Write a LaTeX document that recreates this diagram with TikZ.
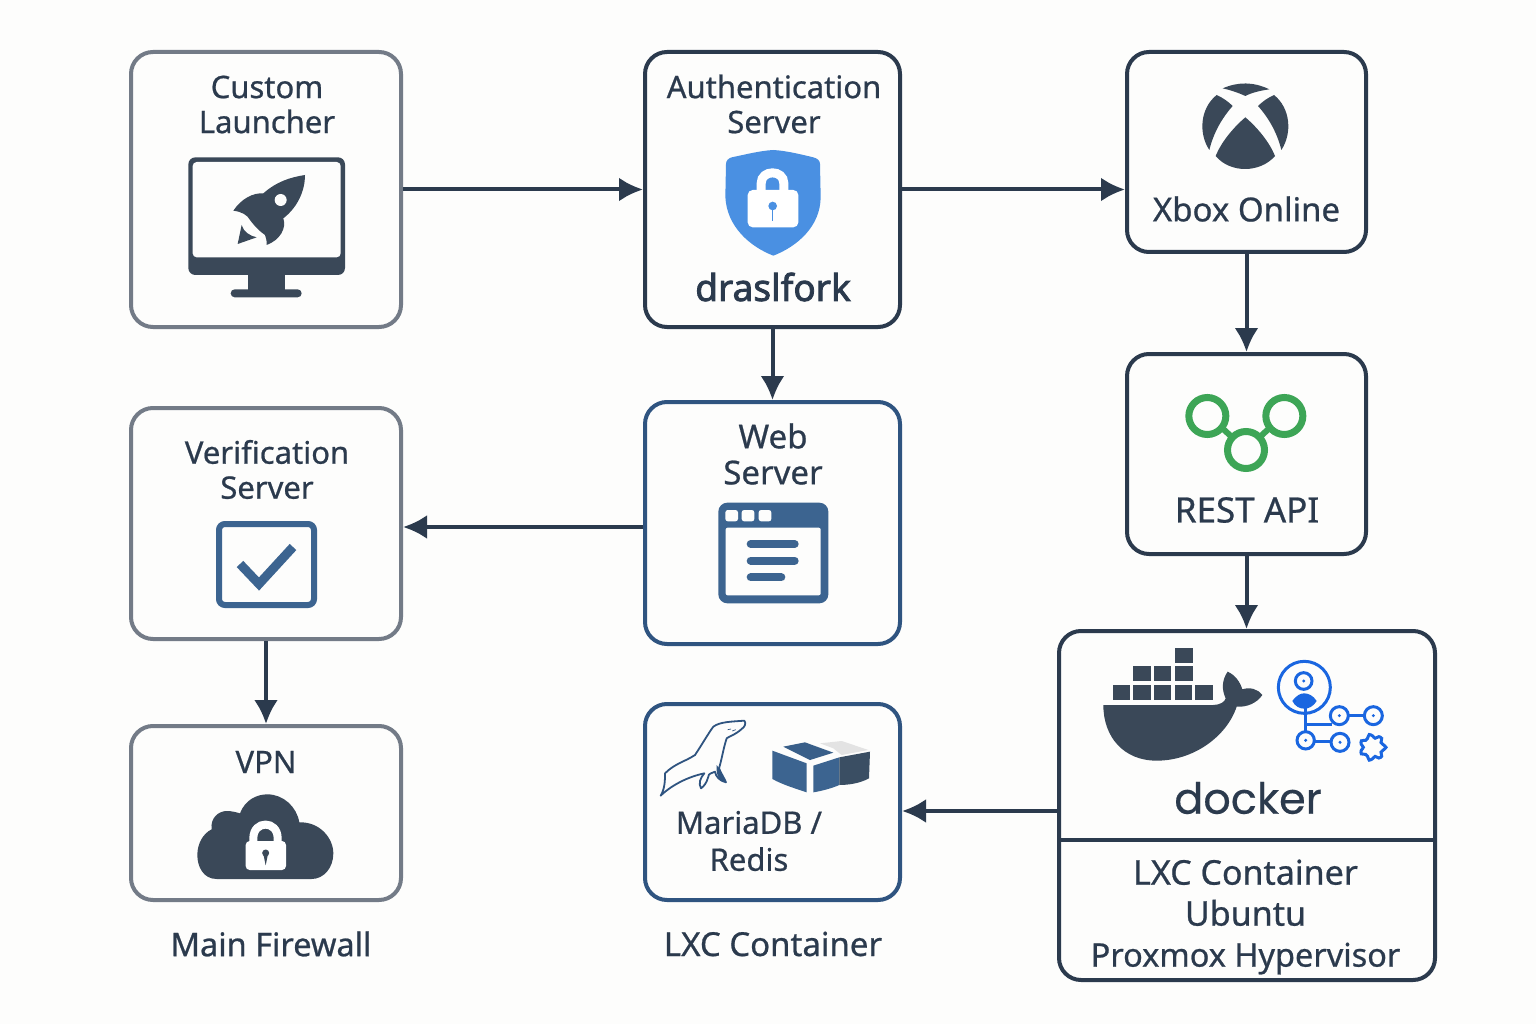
\documentclass[tikz,border=0pt]{standalone}
\usepackage{fontspec}
\setmainfont[RawFeature={embolden=0.7}]{Noto Sans}
\newfontfamily\heavyface[RawFeature={embolden=2.2}]{Noto Sans}
\newfontfamily\logoface[RawFeature={embolden=0.4}]{Poppins}
\definecolor{bgc}{HTML}{FDFDFC}
\definecolor{inkc}{HTML}{2B3A4D}
\definecolor{iconc}{HTML}{3A4858}
\definecolor{grayc}{HTML}{737B87}
\definecolor{bluec}{HTML}{2F5480}
\definecolor{iblue}{HTML}{3C6490}
\definecolor{shieldc}{HTML}{4A90E2}
\definecolor{greenc}{HTML}{3DA556}
\definecolor{brightc}{HTML}{1A66E0}
\usetikzlibrary{arrows.meta}
\tikzset{
  card/.style={draw=#1,line width=4pt,rounded corners=22pt,fill=bgc,inner sep=0pt},
  lbl/.style={text=inkc,align=center,inner sep=0pt,font=\fontsize{31}{35}\selectfont},
  flow/.style={draw=inkc,line width=4pt},
  zoomin/.style={shift={(#1)},scale=1/3}
}
\newcommand{\flowarrow}[2]{\draw[flow,-{Latex[length=24pt,width=24pt]}] #1 -- #2;}
\begin{document}
\begin{tikzpicture}[x=1pt,y=-1pt]
\useasboundingbox (0,0) rectangle (1536,1024);
\fill[bgc] (0,0) rectangle (1536,1024);
% cards
\node[card=grayc,minimum width=270pt,minimum height=275pt] (launcher) at (266,189.5) {};
\node[card=inkc,minimum width=255pt,minimum height=275pt] (auth) at (772.5,189.5) {};
\node[card=inkc,minimum width=239pt,minimum height=200pt] (xbox) at (1246.5,152) {};
\node[card=inkc,minimum width=239pt,minimum height=200pt] (rest) at (1246.5,454) {};
\node[card=inkc,minimum width=376pt,minimum height=349pt] (docker) at (1247,805.5) {};
\node[card=bluec,minimum width=255pt,minimum height=242pt] (web) at (772.5,523) {};
\node[card=grayc,minimum width=270pt,minimum height=231pt] (verify) at (266,523.5) {};
\node[card=grayc,minimum width=270pt,minimum height=174pt] (vpn) at (266,813) {};
\node[card=bluec,minimum width=255pt,minimum height=196pt] (maria) at (772.5,802) {};
\draw[inkc,line width=4pt] (docker.west |- 0,839.5) -- (docker.east |- 0,839.5);
% connectors
\flowarrow{(launcher.east)}{(auth.west)}
\flowarrow{(auth.east)}{(auth.east -| xbox.west)}
\flowarrow{(xbox.south)}{(rest.north)}
\flowarrow{(rest.south)}{(rest.south |- docker.north)}
\flowarrow{(auth.south)}{(web.north)}
\flowarrow{([yshift=-4pt]web.west)}{([yshift=-3.5pt]verify.east)}
\flowarrow{(verify.south)}{(vpn.north)}
\flowarrow{([yshift=-5.5pt]docker.west)}{([yshift=-9pt]maria.east)}
% labels
\node[lbl] (tLauncher) at (267,104.5) {Custom\\Launcher};
\node[lbl] (tAuth) at (774,104) {Authentication\\Server};
\node[lbl,font=\fontsize{37}{37}\selectfont\heavyface] (tDrasl) at (773,287) {draslfork};
\node[lbl,font=\fontsize{33}{35}\selectfont] (tXbox) at (1246.5,209) {Xbox Online};
\node[lbl,font=\fontsize{35}{35}\selectfont] (tRest) at (1247,510) {REST API};
\node[lbl,font=\fontsize{33}{36}\selectfont] (tWeb) at (773,454) {Web\\Server};
\node[lbl] (tVerify) at (267,469.5) {Verification\\Server};
\node[lbl] (tVpn) at (266,762) {VPN};
\node[lbl,font=\fontsize{31}{37}\selectfont] (tMaria) at (749,841) {MariaDB /\\Redis};
\node[lbl,font=\fontsize{34}{41}\selectfont] (tLxc) at (1245.5,917) {LXC Container\\Ubuntu\\{\fontsize{32.5}{41}\selectfont Proxmox Hypervisor}};
\node[lbl,font=\fontsize{32.5}{35}\selectfont] (tFirewall) at (271,944) {Main Firewall};
\node[lbl,font=\fontsize{33}{35}\selectfont] (tLxcTwo) at (773,944) {LXC Container};
\node[lbl,font=\fontsize{43}{43}\selectfont\logoface] (tDocker) at (1248,798) {docker};
% monitor + rocket
\begin{scope}[zoomin={170,150}]
 \fill[iconc,rounded corners=7pt] (55,22) rectangle (525,375);
 \fill[iconc] (235,370) rectangle (345,425);
 \fill[iconc,rounded corners=4pt] (182,418) rectangle (395,442);
 \fill[bgc,rounded corners=4pt] (68,36) rectangle (512,322);
 \fill[iconc] (405,75) .. controls (360,82) and (320,95) .. (280,130) .. controls (250,128) and (215,145) .. (190,182) .. controls (215,185) and (232,195) .. (240,210) .. controls (255,230) and (270,245) .. (285,255) .. controls (290,265) and (290,275) .. (290,285) .. controls (330,270) and (350,235) .. (340,205) .. controls (385,170) and (405,120) .. (405,75) -- cycle;
 \fill[bgc] (332,150) circle (18);
 \fill[iconc] (215,225) .. controls (220,245) and (240,258) .. (260,262) -- (203,282) -- cycle;
\end{scope}
% shield
\begin{scope}[zoomin={700,140}]
 \fill[shieldc] (220,30) .. controls (180,32) and (130,45) .. (95,52) .. controls (85,55) and (78,62) .. (78,72) -- (76,170) .. controls (80,260) and (150,320) .. (220,347) .. controls (290,320) and (362,260) .. (362,170) -- (360,72) .. controls (360,62) and (352,55) .. (340,52) .. controls (310,45) and (260,32) .. (220,30) -- cycle;
 \draw[white,line width=9pt] (183.5,155) -- (183.5,130) .. controls (183.5,88) and (251.5,88) .. (251.5,130) -- (251.5,155);
 \fill[white,rounded corners=5pt] (143,150) rectangle (295,262);
 \fill[shieldc] (218,198) circle (13);
 \draw[shieldc,line width=1.5pt] (218,198) -- (218,242);
\end{scope}
% xbox
\begin{scope}[zoomin={1180,70}]
 \fill[iconc] (128,55) .. controls (175,35) and (220,35) .. (268,58) .. controls (240,62) and (215,68) .. (196,78) .. controls (175,68) and (150,60) .. (128,55) -- cycle;
 \fill[iconc] (110,75) .. controls (128,83) and (145,95) .. (158,108) .. controls (125,145) and (100,190) .. (88,240) .. controls (55,190) and (60,115) .. (110,75) -- cycle;
 \fill[iconc] (282,75) .. controls (264,83) and (247,95) .. (234,108) .. controls (267,145) and (292,190) .. (304,240) .. controls (337,190) and (332,115) .. (282,75) -- cycle;
 \fill[iconc] (196,142) .. controls (235,175) and (270,220) .. (285,258) .. controls (240,310) and (150,310) .. (107,258) .. controls (122,220) and (157,175) .. (196,142) -- cycle;
\end{scope}
% rest rings
\begin{scope}[zoomin={1170,385}]
 \draw[greenc,line width=7pt] (112,93) circle (55.5) (228,195) circle (55.5) (343,93) circle (55.5);
 \draw[greenc,line width=6pt] (155,128) -- (190,160) (265,160) -- (300,128);
\end{scope}
% browser window
\begin{scope}[zoomin={700,490}]
 \fill[iblue,rounded corners=9pt] (55,38) rectangle (385,340);
 \fill[bgc,rounded corners=2pt] (77,113) rectangle (362,316);
 \foreach \a/\b in {76/114,125/163,176/214}{\fill[bgc,rounded corners=2.5pt] (\a,60) rectangle (\b,94);}
 \draw[iblue,line width=8pt,line cap=round] (152,162) -- (284,162) (152,212) -- (284,212) (152,262) -- (244,262);
\end{scope}
% check box
\draw[iblue,line width=6pt,rounded corners=6pt] (219,524) rectangle (314,605);
\draw[iblue,line width=9pt] (240,564) -- (259,584) -- (293,547);
% cloud
\begin{scope}[zoomin={180,780}]
 \fill[iconc] (110,297) .. controls (70,297) and (52,260) .. (52,225) .. controls (52,190) and (70,160) .. (95,148) .. controls (90,115) and (115,93) .. (140,93) .. controls (155,93) and (170,97) .. (180,100) .. controls (195,60) and (230,43) .. (262,43) .. controls (310,43) and (350,80) .. (358,127) .. controls (420,125) and (460,175) .. (460,220) .. controls (460,265) and (430,297) .. (395,297) -- cycle;
 \draw[white,line width=8pt] (220,190) -- (220,175) .. controls (220,120) and (293,120) .. (293,175) -- (293,190);
 \fill[white,rounded corners=4pt] (197,183) rectangle (318,270);
 \fill[iconc] (257,219) circle (10.5);
 \fill[iconc] (250,222) -- (264,222) -- (257,256) -- cycle;
\end{scope}
% docker whale
\begin{scope}[zoomin={1060,630}]
 \fill[iconc] (345,53) rectangle (398,98);
 \foreach \a/\b in {220/272,282/333,345/398}{\fill[iconc] (\a,108) rectangle (\b,152);}
 \foreach \a/\b in {158/210,220/272,282/333,345/397,405/458}{\fill[iconc] (\a,165) rectangle (\b,210);}
 \fill[iconc] (130,225) -- (460,225) .. controls (480,225) and (495,215) .. (497,205) .. controls (485,180) and (485,150) .. (503,125) .. controls (525,135) and (540,155) .. (547,178) .. controls (570,170) and (595,178) .. (607,195) .. controls (590,220) and (560,232) .. (530,230) .. controls (500,320) and (400,392) .. (290,392) .. controls (190,392) and (130,320) .. (130,225) -- cycle;
 % blue workflow icon
 \begin{scope}[brightc,line width=3pt]
  \draw (733,172) circle (78);
  \draw (731,153) circle (25);
  \fill (731,153) circle (5);
  \fill (697,213) .. controls (710,195) and (722,190) .. (733,190) .. controls (745,190) and (760,197) .. (770,213) .. controls (760,230) and (745,236) .. (733,236) .. controls (720,236) and (705,230) .. (697,213) -- cycle;
  \draw (735,235) -- (735,304) (735,282) -- (815,282) (865,256) -- (913,256) (763,335) -- (813,335);
  \draw (838,257) circle (27) (940,257) circle (27) (737,331) circle (26) (840,337) circle (27);
  \fill (838,257) circle (5) (940,257) circle (5) (737,331) circle (5) (840,337) circle (5);
  \draw[smooth cycle] plot[domain=0:345,samples=24] ({938+(34+6*cos(7*\x))*cos(\x)},{352+(34+6*cos(7*\x))*sin(\x)});
 \end{scope}
\end{scope}
% MariaDB seal + blocks
\begin{scope}[zoomin={645,705}]
 \draw[bluec,line width=1.8pt,line join=round,fill=bgc] (47,272) .. controls (60,250) and (60,225) .. (60,205) .. controls (90,175) and (120,170) .. (150,150) .. controls (170,120) and (190,85) .. (205,65) .. controls (225,50) and (260,50) .. (298,47) .. controls (304,55) and (300,65) .. (290,72) .. controls (270,90) and (250,95) .. (245,100) .. controls (235,130) and (230,165) .. (222,190) .. controls (228,205) and (238,220) .. (243,232) .. controls (225,228) and (212,215) .. (210,200) .. controls (200,205) and (190,205) .. (190,215) .. controls (185,235) and (175,245) .. (168,250) .. controls (160,235) and (165,220) .. (178,205) .. controls (130,215) and (80,240) .. (47,272) -- cycle;
 \fill[bluec] (222,190) .. controls (228,205) and (238,220) .. (243,232) .. controls (225,228) and (212,215) .. (215,180) -- cycle;
 \draw[bluec,line width=.7pt] (248,74) -- (258,72) (262,78) -- (272,74);
 \fill[iblue] (382,137) -- (485,175) -- (485,262) .. controls (450,250) and (415,240) .. (382,222) -- cycle;
 \fill[iblue] (505,182) -- (583,157) -- (583,240) .. controls (560,250) and (530,258) .. (505,262) -- cycle;
 \fill[iblue!95!black] (415,125) -- (480,112) -- (565,143) -- (495,165) -- cycle;
 \fill[black!11] (525,115) -- (590,108) -- (670,135) -- (590,150) -- (565,130) -- cycle;
 \fill[iconc!80!iblue] (583,157) -- (675,140) -- (672,220) .. controls (645,235) and (610,240) .. (583,240) -- cycle;
\end{scope}
\end{tikzpicture}
\end{document}
